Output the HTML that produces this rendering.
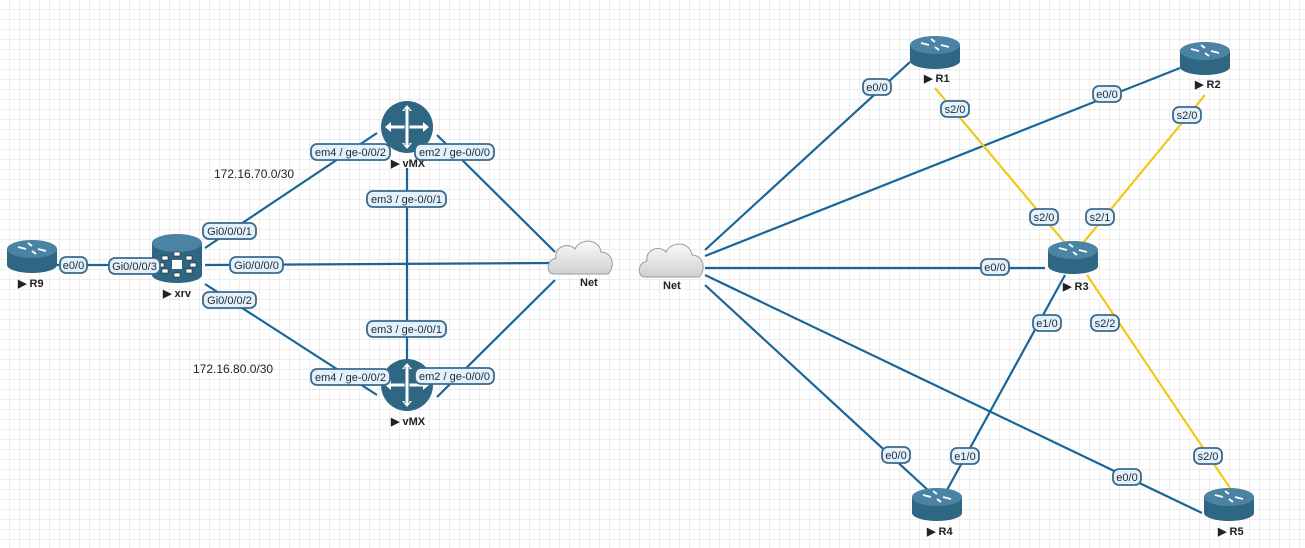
<!DOCTYPE html>
<html><head><meta charset="utf-8"><style>
html,body{margin:0;padding:0;background:#fff;}
svg{display:block;}
.t{font-family:"Liberation Sans",sans-serif;font-size:12px;fill:#222;}
.l{font-family:"Liberation Sans",sans-serif;font-size:11px;fill:#222;font-weight:bold;}
</style></head><body>
<svg width="1305" height="548" xmlns="http://www.w3.org/2000/svg">
<defs>
<pattern id="g" width="10" height="10" patternUnits="userSpaceOnUse">
<path d="M10 0V10M0 10H10" stroke="#dedede" stroke-width="1" fill="none"/>
</pattern>
<linearGradient id="cl" x1="0" y1="0" x2="0" y2="1"><stop offset="0" stop-color="#fafafa"/><stop offset="1" stop-color="#d0d0d0"/></linearGradient>
<g id="rt">
<path d="M-25,-6 V10 A25,8 0 0 0 25,10 V-6 Z" fill="#2f6683"/>
<ellipse cx="0" cy="-6" rx="25" ry="9" fill="#4a83a3"/>
<path d="M-14,-8 l8,2 M14,-4 l-8,-2 M-4,-12 l4,3 M4,-1 l-4,-3" stroke="#fff" stroke-width="1.8"/>
</g>
<g id="vmx">
<circle r="26" fill="#2f6683"/>
<path d="M0,-20V20M-20,0H20" stroke="#fff" stroke-width="3"/>
<path d="M0,-22l-5,6h10zM0,22l-5,-6h10zM-22,0l6,-5v10zM22,0l-6,-5v10z" fill="#fff"/>
<path d="M-2,-18V18M2,-18V18" stroke="#2f6683" stroke-width="1"/>
</g>
<g id="cloud">
<path d="M-28,14 C-36,14 -36,0 -26,-2 C-28,-14 -13,-18 -7,-11 C-2,-22 17,-22 19,-8 C30,-8 34,6 26,14 Z" fill="url(#cl)" stroke="#9a9a9a" stroke-width="1"/>
</g>
</defs>
<rect width="1305" height="548" fill="url(#g)"/>
<g stroke="#17659a" stroke-width="2.2" fill="none">
<line x1="57" y1="265" x2="152" y2="265"/>
<line x1="205" y1="248" x2="377" y2="133"/>
<line x1="205" y1="265" x2="555" y2="263"/>
<line x1="205" y1="284" x2="377" y2="395"/>
<line x1="437" y1="135" x2="555" y2="252"/>
<line x1="437" y1="397" x2="555" y2="280"/>
<line x1="407" y1="168" x2="407" y2="360"/>
<line x1="705" y1="250" x2="910" y2="62"/>
<line x1="705" y1="256" x2="1180" y2="68"/>
<line x1="705" y1="268" x2="1045" y2="268"/>
<line x1="705" y1="285" x2="930" y2="492"/>
<line x1="705" y1="275" x2="1202" y2="513"/>
<line x1="1065" y1="275" x2="947" y2="490"/>
</g>
<g stroke="#f2c81c" stroke-width="2.2">
<line x1="935" y1="88" x2="1065" y2="243"/>
<line x1="1205" y1="95" x2="1083" y2="243"/>
<line x1="1087" y1="275" x2="1230" y2="488"/>
</g>
<use href="#rt" x="32" y="255"/>
<use href="#rt" x="935" y="51"/>
<use href="#rt" x="1205" y="57"/>
<use href="#rt" x="1073" y="256"/>
<use href="#rt" x="937" y="503"/>
<use href="#rt" x="1229" y="503"/>
<g>
<path d="M152,243 V275 A25,8 0 0 0 202,275 V243 Z" fill="#2f6683"/>
<ellipse cx="177" cy="243" rx="25" ry="9" fill="#4a83a3"/>
<rect x="172" y="260" width="10" height="9" fill="#fff"/>
<g fill="#fff" stroke="#222" stroke-width="0.6"><rect x="162" y="256" width="6" height="4"/><rect x="186" y="256" width="6" height="4"/><rect x="162" y="269" width="6" height="4"/><rect x="186" y="269" width="6" height="4"/><rect x="174" y="252" width="6" height="4"/><rect x="174" y="273" width="6" height="4"/><rect x="158" y="263" width="6" height="4"/><rect x="190" y="263" width="6" height="4"/></g>
</g>
<use href="#vmx" x="407" y="127"/>
<use href="#vmx" x="407" y="385"/>
<use href="#cloud" x="582" y="260"/>
<use href="#cloud" x="673" y="263"/>
<g class="l">
<text x="18" y="287">▶ R9</text>
<text x="163" y="297">▶ xrv</text>
<text x="391" y="167">▶ vMX</text>
<text x="391" y="425">▶ vMX</text>
<text x="580" y="286">Net</text>
<text x="663" y="289">Net</text>
<text x="924" y="82">▶ R1</text>
<text x="1195" y="88">▶ R2</text>
<text x="1063" y="290">▶ R3</text>
<text x="927" y="535">▶ R4</text>
<text x="1218" y="535">▶ R5</text>
</g>
<text class="t" x="214" y="178">172.16.70.0/30</text>
<text class="t" x="193" y="373">172.16.80.0/30</text>
<g stroke="#3b6a8a" stroke-width="1.8" fill="#e4f1fa">
<rect x="60" y="257" width="27" height="16" rx="6"/>
<rect x="109" y="258" width="51" height="16" rx="6"/>
<rect x="203" y="223" width="53" height="16" rx="6"/>
<rect x="230" y="257" width="53" height="16" rx="6"/>
<rect x="203" y="292" width="53" height="16" rx="6"/>
<rect x="311" y="144" width="79" height="16" rx="6"/>
<rect x="415" y="144" width="79" height="16" rx="6"/>
<rect x="367" y="191" width="79" height="16" rx="6"/>
<rect x="367" y="321" width="79" height="16" rx="6"/>
<rect x="311" y="369" width="79" height="16" rx="6"/>
<rect x="415" y="368" width="79" height="16" rx="6"/>
<rect x="863" y="79" width="28" height="16" rx="6"/>
<rect x="1093" y="86" width="28" height="16" rx="6"/>
<rect x="941" y="101" width="28" height="16" rx="6"/>
<rect x="1173" y="107" width="28" height="16" rx="6"/>
<rect x="1030" y="209" width="28" height="16" rx="6"/>
<rect x="1086" y="209" width="28" height="16" rx="6"/>
<rect x="981" y="259" width="28" height="16" rx="6"/>
<rect x="1033" y="315" width="28" height="16" rx="6"/>
<rect x="1091" y="315" width="28" height="16" rx="6"/>
<rect x="882" y="447" width="28" height="16" rx="6"/>
<rect x="951" y="448" width="28" height="16" rx="6"/>
<rect x="1113" y="469" width="28" height="16" rx="6"/>
<rect x="1194" y="448" width="28" height="16" rx="6"/>
</g>
<g font-family="Liberation Sans,sans-serif" font-size="11" fill="#1f2a33" text-anchor="middle">
<text x="73.5" y="269">e0/0</text>
<text x="134.5" y="270">Gi0/0/0/3</text>
<text x="229.5" y="235">Gi0/0/0/1</text>
<text x="256.5" y="269">Gi0/0/0/0</text>
<text x="229.5" y="304">Gi0/0/0/2</text>
<text x="350.5" y="156">em4 / ge-0/0/2</text>
<text x="454.5" y="156">em2 / ge-0/0/0</text>
<text x="406.5" y="203">em3 / ge-0/0/1</text>
<text x="406.5" y="333">em3 / ge-0/0/1</text>
<text x="350.5" y="381">em4 / ge-0/0/2</text>
<text x="454.5" y="380">em2 / ge-0/0/0</text>
<text x="877" y="91">e0/0</text>
<text x="1107" y="98">e0/0</text>
<text x="955" y="113">s2/0</text>
<text x="1187" y="119">s2/0</text>
<text x="1044" y="221">s2/0</text>
<text x="1100" y="221">s2/1</text>
<text x="995" y="271">e0/0</text>
<text x="1047" y="327">e1/0</text>
<text x="1105" y="327">s2/2</text>
<text x="896" y="459">e0/0</text>
<text x="965" y="460">e1/0</text>
<text x="1127" y="481">e0/0</text>
<text x="1208" y="460">s2/0</text>
</g>
</svg>
</body></html>
